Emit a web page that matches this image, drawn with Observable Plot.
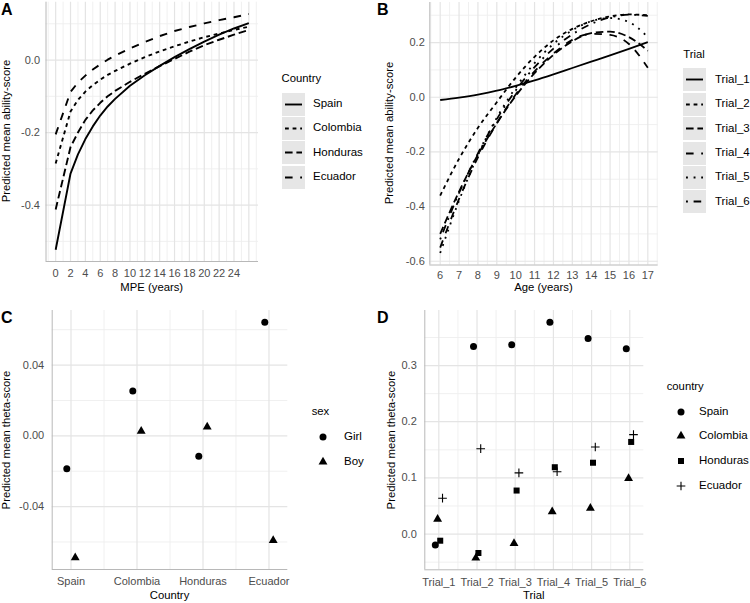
<!DOCTYPE html>
<html><head><meta charset="utf-8">
<script src="https://cdn.jsdelivr.net/npm/d3@7"></script>
<script src="https://cdn.jsdelivr.net/npm/@observablehq/plot@0.6"></script>
<style>
body{margin:0;background:#fff;font-family:"Liberation Sans",Arial,sans-serif;}
#root{position:relative;width:750px;height:603px;overflow:hidden;}
</style></head><body><div id="root"></div>
<script>
// ---------- Panel A data ----------
const mpe = [0, 2, 3, 4, 5, 6, 7, 8, 10, 12, 14, 16, 18, 20, 22, 24, 26];
const countriesA = ["Spain", "Colombia", "Honduras", "Ecuador"];
const spainA    = [-0.523, -0.313, -0.260, -0.218, -0.183, -0.153, -0.128, -0.107, -0.071, -0.042, -0.016, 0.008, 0.030, 0.051, 0.070, 0.087, 0.102];
const colombiaA = [-0.285, -0.142, -0.110, -0.087, -0.069, -0.054, -0.041, -0.030, -0.010, 0.008, 0.024, 0.038, 0.051, 0.063, 0.073, 0.083, 0.092];
const hondurasA = [-0.412, -0.240, -0.200, -0.165, -0.139, -0.118, -0.100, -0.085, -0.060, -0.038, -0.017, 0.003, 0.023, 0.041, 0.056, 0.070, 0.083];
const ecuadorA  = [-0.205, -0.088, -0.062, -0.043, -0.026, -0.012, 0.001, 0.012, 0.032, 0.050, 0.066, 0.080, 0.091, 0.101, 0.110, 0.118, 0.127];
const xTicksA = [0, 2, 4, 6, 8, 10, 12, 14, 16, 18, 20, 22, 24];
const yTicksA = [-0.4, -0.2, 0.0];

// ---------- Panel B data ----------
const ages = [6, 7, 8, 9, 10, 11, 12, 13, 14, 15, 16, 17];
const trials = ["Trial_1", "Trial_2", "Trial_3", "Trial_4", "Trial_5", "Trial_6"];
const trial1B = [-0.010, -0.001, 0.010, 0.024, 0.042, 0.062, 0.084, 0.107, 0.130, 0.153, 0.177, 0.202];
const trial2B = [-0.360, -0.225, -0.112, -0.018, 0.072, 0.148, 0.208, 0.250, 0.278, 0.296, 0.303, 0.300];
const trial3B = [-0.500, -0.345, -0.210, -0.095, 0.005, 0.088, 0.155, 0.205, 0.235, 0.240, 0.220, 0.170];
const trial4B = [-0.550, -0.372, -0.220, -0.095, 0.010, 0.095, 0.160, 0.210, 0.232, 0.228, 0.195, 0.108];
const trial5B = [-0.570, -0.378, -0.212, -0.075, 0.035, 0.125, 0.195, 0.245, 0.278, 0.290, 0.275, 0.220];
const trial6B = [-0.520, -0.350, -0.205, -0.080, 0.025, 0.110, 0.178, 0.230, 0.268, 0.292, 0.302, 0.298];
const yTicksB = [-0.6, -0.4, -0.2, 0.0, 0.2];

// ---------- Panel C data ----------
const countriesC = ["Spain", "Colombia", "Honduras", "Ecuador"];
const sexes = ["Girl", "Boy"];
const girlC = [-0.0186, 0.0253, -0.0115, 0.0642];
const boyC  = [-0.0689, 0.0027, 0.0051, -0.0591];
const yTicksC = [-0.04, 0.00, 0.04];

// ---------- Panel D data ----------
const countriesD = ["Spain", "Colombia", "Honduras", "Ecuador"];
const spainD    = [-0.0195, 0.334, 0.337, 0.377, 0.348, 0.330];
const colombiaD = [0.0266, -0.0426, -0.0166, 0.040, 0.046, 0.099];
const hondurasD = [-0.0118, -0.0337, 0.0775, 0.119, 0.127, 0.164];
const ecuadorD  = [0.0639, 0.152, 0.109, 0.111, 0.155, 0.177];
const yTicksD = [0.0, 0.1, 0.2, 0.3];

// ---------- helpers ----------
const root = document.getElementById("root");
const NS = "http://www.w3.org/2000/svg";
const FONT = "Liberation Sans, Arial, sans-serif";
const MAJOR = "#e4e4e4", MINOR = "#eeeeee", AXIS = "#b8b8b8", TICKCOL = "#4d4d4d";
const LW = 1.9;
const u = 1.9;
const dashes = [null, `${2*u},${2*u}`, `${4*u},${2*u}`, `${4*u},${4*u}`, `${1*u},${3*u}`, `${1*u},${3*u},${4*u},${3*u}`];

function txt(str, x, y, o = {}) {
  const d = document.createElement("div");
  d.textContent = str;
  d.style.cssText = `position:absolute;left:${x}px;top:${y}px;font-size:${o.size||11.3}px;line-height:1;white-space:nowrap;color:${o.color||"#000"};font-weight:${o.bold?"bold":"normal"};transform:${o.tf||"translate(0,-50%)"};font-family:${FONT}`;
  root.appendChild(d);
}
function put(el, x, y) {
  el.style.position = "absolute"; el.style.left = x + "px"; el.style.top = y + "px";
  root.appendChild(el);
}
function expand(ext, f) { const p = (ext[1] - ext[0]) * f; return [ext[0] - p, ext[1] + p]; }
function fmt(n) { return d => d.toFixed(n); }
function grid(xMajor, xMinor, yMajor, yMinor) {
  return [
    Plot.ruleX(xMinor, {stroke: MINOR, strokeWidth: 0.9}),
    Plot.ruleY(yMinor, {stroke: MINOR, strokeWidth: 0.9}),
    Plot.ruleX(xMajor, {stroke: MAJOR, strokeWidth: 1.2}),
    Plot.ruleY(yMajor, {stroke: MAJOR, strokeWidth: 1.2})
  ];
}
function axisLines(xd, yd) {
  return [Plot.ruleX([xd[0]], {stroke: AXIS, strokeWidth: 1}), Plot.ruleY([yd[0]], {stroke: AXIS, strokeWidth: 1})];
}
function frame(svgX, svgY, W, H, f) {
  return {width: W, height: H, marginLeft: f.l - svgX, marginRight: svgX + W - f.r, marginTop: f.t - svgY, marginBottom: svgY + H - f.b};
}
const style = {background: "none", fontFamily: FONT, fontSize: "11px", color: TICKCOL, overflow: "visible"};

function legendLines(title, labels, dash, x, titleY, top0, labelX) {
  txt(title, x, titleY);
  labels.forEach((lab, i) => {
    const top = top0 + i * 24.4;
    const s = document.createElementNS(NS, "svg");
    s.setAttribute("width", 23); s.setAttribute("height", 23);
    const r = document.createElementNS(NS, "rect");
    r.setAttribute("width", 23); r.setAttribute("height", 23); r.setAttribute("fill", "#e6e6e6");
    s.appendChild(r);
    const l = document.createElementNS(NS, "line");
    l.setAttribute("x1", 3); l.setAttribute("x2", 20); l.setAttribute("y1", 11.5); l.setAttribute("y2", 11.5);
    l.setAttribute("stroke", "#000"); l.setAttribute("stroke-width", LW);
    if (dash[i]) l.setAttribute("stroke-dasharray", dash[i]);
    s.appendChild(l);
    put(s, x, top);
    txt(lab, labelX, top + 11.5, {size: 11.5});
  });
}
function legendSymbols(title, labels, syms, x, titleY, cx, cy0, labelX, step = 25) {
  txt(title, x, titleY);
  const map = {circle: d3.symbolCircle, triangle: d3.symbolTriangle, square: d3.symbolSquare, plus: d3.symbolPlus};
  const rr = {circle: 3.5, triangle: 3.3, square: 3.4, plus: 2.9};
  labels.forEach((lab, i) => {
    const cy = cy0 + i * step;
    const s = document.createElementNS(NS, "svg");
    s.setAttribute("width", 16); s.setAttribute("height", 16);
    const p = document.createElementNS(NS, "path");
    p.setAttribute("transform", "translate(8,8)");
    p.setAttribute("d", d3.symbol(map[syms[i]], Math.PI * rr[syms[i]] ** 2)());
    if (syms[i] === "plus") { p.setAttribute("fill", "none"); p.setAttribute("stroke", "#000"); p.setAttribute("stroke-width", 1.1); }
    else p.setAttribute("fill", "#000");
    s.appendChild(p);
    put(s, cx - 8, cy - 8);
    txt(lab, labelX, cy, {size: 11.5});
  });
}

// ---------- Panel A ----------
{
  const series = [spainA, colombiaA, hondurasA, ecuadorA];
  const xd = expand(d3.extent(mpe), 0.05);
  const yd = expand(d3.extent(series.flat()), 0.05);
  const f = {l: 45.5, r: 258, t: 1.7, b: 261};
  const xs = d3.range(Math.ceil(xd[0]), Math.floor(xd[1]) + 1);
  const ysMinor = [-0.5, -0.3, -0.1, 0.1].filter(v => v >= yd[0] && v <= yd[1]);
  const lines = series.map((s, i) => Plot.line(mpe.map((m, j) => ({x: m, y: s[j]})), {x: "x", y: "y", stroke: "#000", strokeWidth: LW, strokeDasharray: dashes[i], strokeLinecap: "butt", strokeLinejoin: "round"}));
  const p = Plot.plot({
    ...frame(0, 0, 262, 300, f), style,
    x: {domain: xd, ticks: xTicksA, tickSize: 0, tickPadding: 8, label: null, tickFormat: d => String(d)},
    y: {domain: yd, ticks: yTicksA, tickSize: 0, tickPadding: 6, label: null, tickFormat: fmt(1)},
    marks: [...grid(xs.filter(v => v % 2 === 0), xs.filter(v => v % 2 !== 0), yTicksA, ysMinor), ...axisLines(xd, yd), ...lines]
  });
  put(p, 0, 0);
  txt("A", 1, 10, {size: 16, bold: true});
  txt("MPE (years)", (f.l + f.r) / 2, 288, {tf: "translate(-50%,-50%)"});
  txt("Predicted mean ability-score", 7, (f.t + f.b) / 2, {tf: "translate(-50%,-50%) rotate(-90deg)"});
  legendLines("Country", countriesA, dashes.slice(0, 4), 281.5, 79, 92.5, 313);
}

// ---------- Panel B ----------
{
  const series = [trial1B, trial2B, trial3B, trial4B, trial5B, trial6B];
  const xd = expand(d3.extent(ages), 0.05);
  const yd = expand(d3.extent(series.flat()), 0.05);
  const f = {l: 429.3, r: 657.7, t: 2, b: 264.5};
  const xMajor = ages, xMinor = d3.range(5.5, 18, 1).filter(v => v >= xd[0] && v <= xd[1]);
  const yMinor = [-0.5, -0.3, -0.1, 0.1, 0.3].filter(v => v >= yd[0] && v <= yd[1]);
  const lines = series.map((s, i) => Plot.line(ages.map((a, j) => ({x: a, y: s[j]})), {x: "x", y: "y", curve: "monotone-x", stroke: "#000", strokeWidth: 1.8, strokeDasharray: dashes[i], strokeLinecap: "butt", strokeLinejoin: "round"}));
  const p = Plot.plot({
    ...frame(380, 0, 282, 300, f), style,
    x: {domain: xd, ticks: ages, tickSize: 0, tickPadding: 6, label: null, tickFormat: d => String(d)},
    y: {domain: yd, ticks: yTicksB, tickSize: 0, tickPadding: 5, label: null, tickFormat: fmt(1)},
    marks: [...grid(xMajor, xMinor, yTicksB, yMinor), ...axisLines(xd, yd), ...lines]
  });
  put(p, 380, 0);
  txt("B", 377, 10, {size: 16, bold: true});
  txt("Age (years)", (f.l + f.r) / 2, 288, {tf: "translate(-50%,-50%)"});
  txt("Predicted mean ability-score", 390, (f.t + f.b) / 2, {tf: "translate(-50%,-50%) rotate(-90deg)"});
  legendLines("Trial", trials, dashes, 683.3, 55, 68.3, 715);
}

// ---------- Panel C ----------
{
  const idx = countriesC.map((c, i) => i + 1);
  const xd = [1 - 0.285, countriesC.length + 0.285];
  const yd = expand(d3.extent([...girlC, ...boyC]), 0.05);
  const f = {l: 51.7, r: 287.3, t: 310, b: 569};
  const yMinor = [-0.06, -0.02, 0.02, 0.06].filter(v => v >= yd[0] && v <= yd[1]);
  const xMinor = d3.range(1.5, countriesC.length, 1);
  const rows = s => idx.map((x, j) => ({x, y: s[j]}));
  const p = Plot.plot({
    ...frame(0, 300, 292, 303, f), style,
    x: {domain: xd, ticks: idx, tickSize: 0, tickPadding: 8, label: null, tickFormat: d => countriesC[d - 1]},
    y: {domain: yd, ticks: yTicksC, tickSize: 0, tickPadding: 8, label: null, tickFormat: fmt(2)},
    marks: [...grid(idx, xMinor, yTicksC, yMinor), ...axisLines(xd, yd),
      Plot.dot(rows(girlC), {x: "x", y: "y", dx: -4.2, symbol: "circle", r: 3.5, fill: "#000"}),
      Plot.dot(rows(boyC), {x: "x", y: "y", dx: 4.2, symbol: "triangle", r: 3.3, fill: "#000"})]
  });
  put(p, 0, 300);
  txt("C", 1, 318, {size: 16, bold: true});
  txt("Country", (f.l + f.r) / 2, 596, {tf: "translate(-50%,-50%)"});
  txt("Predicted mean theta-score", 7, (f.t + f.b) / 2, {tf: "translate(-50%,-50%) rotate(-90deg)"});
  legendSymbols("sex", sexes, ["circle", "triangle"], 311.7, 411.7, 323.3, 436.7, 344);
}

// ---------- Panel D ----------
{
  const idx = trials.map((t, i) => i + 1);
  const series = [spainD, colombiaD, hondurasD, ecuadorD];
  const xd = [1 - 0.367, trials.length + 0.367];
  const yd = expand(d3.extent(series.flat()), 0.05);
  const f = {l: 424.3, r: 643.3, t: 310, b: 569.3};
  const yMinor = [-0.05, 0.05, 0.15, 0.25, 0.35].filter(v => v >= yd[0] && v <= yd[1]);
  const xMinor = d3.range(1.5, trials.length, 1);
  const syms = ["circle", "triangle", "square", "plus"];
  const offs = [-3.5, -1.2, 1.4, 3.7];
  const rs = [3.5, 3.3, 3.4, 2.9];
  const marks = series.map((s, i) => Plot.dot(idx.map((x, j) => ({x, y: s[j]})), syms[i] === "plus"
    ? {x: "x", y: "y", dx: offs[i], symbol: "plus", r: rs[i], stroke: "#000", strokeWidth: 1.1, fill: "none"}
    : {x: "x", y: "y", dx: offs[i], symbol: syms[i], r: rs[i], fill: "#000"}));
  const p = Plot.plot({
    ...frame(380, 300, 268, 303, f), style,
    x: {domain: xd, ticks: idx, tickSize: 0, tickPadding: 8, label: null, tickFormat: d => trials[d - 1]},
    y: {domain: yd, ticks: yTicksD, tickSize: 0, tickPadding: 8, label: null, tickFormat: fmt(1)},
    marks: [...grid(idx, xMinor, yTicksD, yMinor), ...axisLines(xd, yd), ...marks]
  });
  put(p, 380, 300);
  txt("D", 377, 318, {size: 16, bold: true});
  txt("Trial", (f.l + f.r) / 2, 596, {tf: "translate(-50%,-50%)"});
  txt("Predicted mean theta-score", 391.7, (f.t + f.b) / 2, {tf: "translate(-50%,-50%) rotate(-90deg)"});
  legendSymbols("country", countriesD, syms, 666.7, 387.3, 681, 411.7, 699, 24.7);
}
</script></body></html>
